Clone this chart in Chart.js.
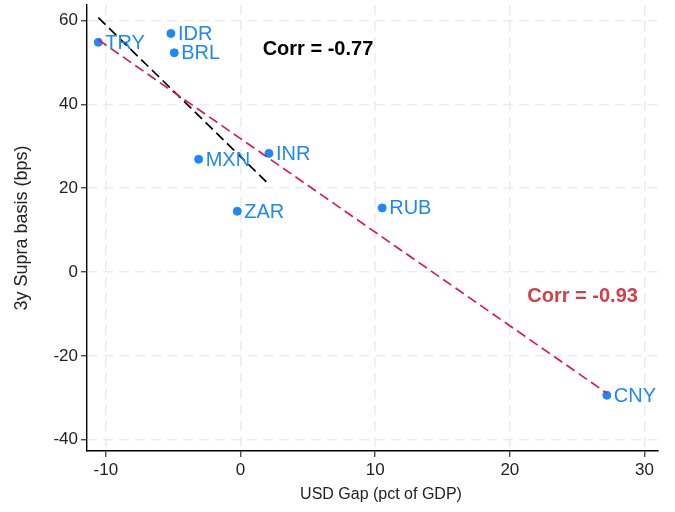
<!DOCTYPE html>
<html>
<head>
<meta charset="utf-8">
<script src="https://cdn.jsdelivr.net/npm/chart.js@4.4.1/dist/chart.umd.min.js"></script>
<style>
  html, body { margin: 0; padding: 0; background: #fff; }
  #wrap { width: 675px; height: 512px; }
</style>
</head>
<body>
<div id="wrap"><canvas id="c" width="675" height="512"></canvas></div>
<script>
// Currencies: USD gap (% of GDP) vs 3y supra basis (bps)
const currencies = ['TRY', 'IDR', 'BRL', 'MXN', 'INR', 'ZAR', 'RUB', 'CNY'];
const usdGap     = [-10.56, -5.17, -4.92, -3.11, 2.11, -0.24, 10.52, 27.2];
const supraBasis = [54.8, 56.9, 52.3, 26.9, 28.3, 14.5, 15.3, -29.4];

// Fitted lines, given by their end points
const fitAllX = [-10.56, 27.2];
const fitAllY = [55.4, -28.9];
const fitExX  = [-10.56, 2.11];
const fitExY  = [60.7, 20.9];

const corrAll = '-0.93';
const corrEx  = '-0.77';

const xTicks = [-10, 0, 10, 20, 30];
const yTicks = [-40, -20, 0, 20, 40, 60];

const xTitle = 'USD Gap (pct of GDP)';
const yTitle = '3y Supra basis (bps)';

const BLUE = '#1e88f5';
const RED = '#d81b5a';
const FONT = "'Liberation Sans', Arial, sans-serif";

const pts = currencies.map((c, i) => ({ x: usdGap[i], y: supraBasis[i] }));
const lineAll = fitAllX.map((x, i) => ({ x, y: fitAllY[i] }));
const lineEx = fitExX.map((x, i) => ({ x, y: fitExY[i] }));

const labelPlugin = {
  id: 'pointLabels',
  afterDatasetsDraw(chart) {
    const { ctx, scales: { x, y } } = chart;
    ctx.save();
    ctx.font = '20px ' + FONT;
    ctx.fillStyle = BLUE;
    ctx.textAlign = 'left';
    ctx.textBaseline = 'middle';
    currencies.forEach((c, i) => {
      ctx.fillText(c, x.getPixelForValue(usdGap[i]) + 7, y.getPixelForValue(supraBasis[i]) + 1);
    });
    ctx.font = 'bold 20px ' + FONT;
    ctx.textAlign = 'center';
    ctx.fillStyle = '#000';
    ctx.fillText('Corr = ' + corrEx, x.getPixelForValue(5.75), y.getPixelForValue(53));
    ctx.fillStyle = '#d23f48';
    ctx.fillText('Corr = ' + corrAll, x.getPixelForValue(25.4), y.getPixelForValue(-5.8));
    ctx.restore();
  },
  afterDraw(chart) {
    const { ctx, chartArea } = chart;
    ctx.save();
    ctx.fillStyle = '#222';
    ctx.textAlign = 'center';
    ctx.textBaseline = 'middle';
    ctx.font = '16px ' + FONT;
    ctx.fillText(xTitle, chartArea.left + 294, 495);
    ctx.translate(22, 228);
    ctx.rotate(-Math.PI / 2);
    ctx.font = '18px ' + FONT;
    ctx.fillText(yTitle, 0, 0);
    ctx.restore();
  }
};

new Chart(document.getElementById('c'), {
  type: 'scatter',
  data: {
    datasets: [
      {
        type: 'line', data: lineAll, borderColor: RED, borderWidth: 1.7,
        borderDash: [10, 5], pointRadius: 0, fill: false
      },
      {
        type: 'line', data: lineEx, borderColor: '#000', borderWidth: 1.7,
        borderDash: [10, 5], pointRadius: 0, fill: false
      },
      {
        data: pts, backgroundColor: BLUE, borderColor: BLUE,
        pointRadius: 4, pointHoverRadius: 4
      }
    ]
  },
  options: {
    responsive: false,
    animation: false,
    events: [],
    layout: { padding: { top: 5, right: 17, left: 0, bottom: 0 } },
    plugins: { legend: { display: false }, tooltip: { enabled: false } },
    scales: {
      x: {
        type: 'linear', min: -11.4, max: 31,
        afterBuildTicks: s => { s.ticks = xTicks.map(v => ({ value: v })); },
        afterFit: s => { s.height = 61; s.paddingLeft = 0; s.paddingRight = 0; },
        ticks: { font: { size: 17, family: FONT }, color: '#222', padding: 3 },
        grid: { color: '#ececec', lineWidth: 1.6, tickColor: '#000', tickLength: 6, tickWidth: 1 },
        border: { display: true, color: '#000', width: 1.4, dash: [10, 6] }
      },
      y: {
        type: 'linear', min: -42.7, max: 63.7,
        afterBuildTicks: s => { s.ticks = yTicks.map(v => ({ value: v })); },
        afterFit: s => { s.width = 87; s.paddingTop = 0; s.paddingBottom = 0; },
        ticks: { font: { size: 17, family: FONT }, color: '#222', padding: 3 },
        grid: { color: '#ececec', lineWidth: 1.6, tickColor: '#000', tickLength: 6, tickWidth: 1 },
        border: { display: true, color: '#000', width: 1.4, dash: [10, 6] }
      }
    }
  },
  plugins: [labelPlugin]
});
</script>
</body>
</html>
